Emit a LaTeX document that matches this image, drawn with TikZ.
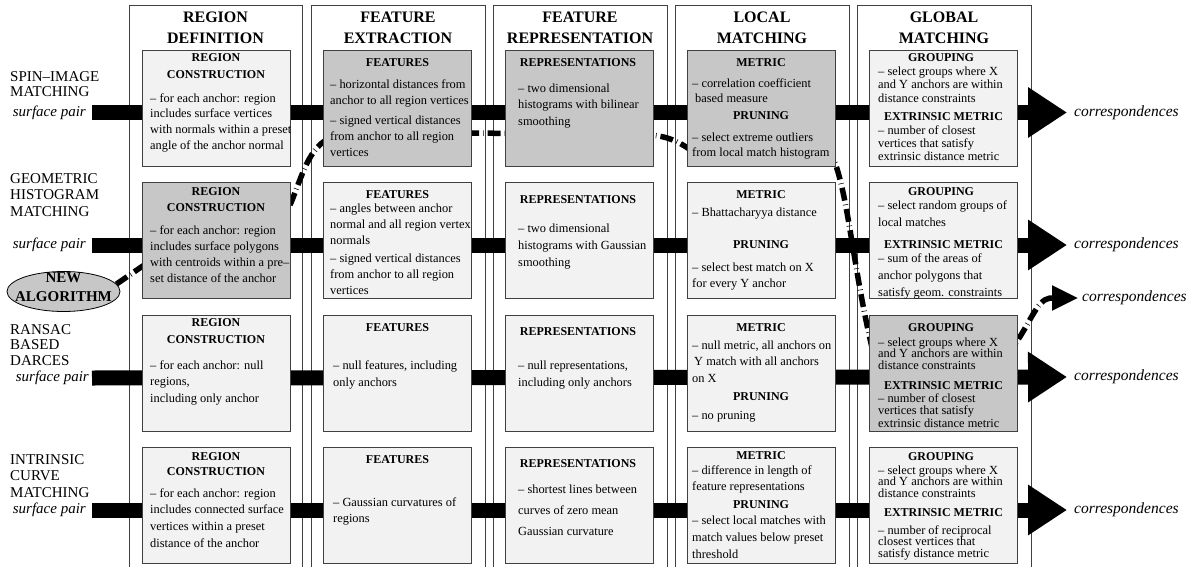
\documentclass[tikz,border=0pt]{standalone}
\usepackage{fontspec}
\setmainfont{Liberation Serif}
\usetikzlibrary{arrows.meta,shapes.geometric}
\newcommand\mystrut{\rule{0pt}{9pt}}
\newcommand\lblstrut{\rule{0pt}{11pt}}
\begin{document}
\begin{tikzpicture}[x=1pt,y=-1pt,
  colframe/.style={draw=black!75, line width=0.8pt},
  lbox/.style={draw=black!75, line width=0.8pt, fill=black!5, minimum width=148pt, minimum height=116pt, inner sep=0pt},
  dbox/.style={lbox, fill=black!22},
  hdr/.style={font=\fontsize{16}{21}\selectfont\bfseries, align=center, inner sep=0pt},
  ttl/.style={font=\fontsize{12}{#1}\selectfont\bfseries, align=center, inner sep=0pt},
  ttl/.default=16,
  bdy/.style={font=\fontsize{12.4}{#1}\selectfont, align=left, inner sep=0pt, anchor=north west},
  bdy/.default=16,
  rowlbl/.style={font=\fontsize{15}{#1}\selectfont, align=left, inner sep=0pt, anchor=north west},
  sp/.style={font=\fontsize{15}{18}\selectfont\itshape, inner ysep=0pt, inner xsep=6pt, anchor=east},
  cor/.style={font=\fontsize{15.5}{18}\selectfont\itshape, inner ysep=0pt, inner xsep=7pt, anchor=west},
  bar/.style={line width=15pt, -{Triangle[length=39pt,width=48pt]}},
  dpath/.style={line width=5.5pt, dash pattern=on 13pt off 4pt on 0.6pt off 4pt},
]
\useasboundingbox (0,0) rectangle (1191,567);

% columns
\foreach \a/\b in {129/302,311/485,493/667,675/849,857/1031}
  \draw[colframe] (\a,567) |- (\b,5) -- (\b,567);

% column headers
\node[hdr] (h1) at (215.5,27.5) {REGION\\DEFINITION};
\node[hdr] (h2) at (398,27.5) {FEATURE\\EXTRACTION};
\node[hdr] (h3) at (580,27.5) {FEATURE\\REPRESENTATION};
\node[hdr] (h4) at (762,27.5) {LOCAL\\MATCHING};
\node[hdr] (h5) at (944,27.5) {GLOBAL\\MATCHING};

% row labels
\node[rowlbl=15] (rl1) at (10,70) {\lblstrut SPIN--IMAGE\\MATCHING};
\node[rowlbl=16.5] (rl2) at (10,172) {\lblstrut GEOMETRIC\\HISTOGRAM\\MATCHING};
\node[rowlbl=15.5] (rl3) at (10,323) {\lblstrut RANSAC\\BASED\\DARCES};
\node[rowlbl=16.5] (rl4) at (10,453) {\lblstrut INTRINSIC\\CURVE\\MATCHING};
\node[sp] (sp1) at (92,112.5) {surface pair};
\node[sp] (sp2) at (92,245) {surface pair};
\node[sp, inner xsep=3pt] (sp3) at (92,378) {surface pair};
\node[sp] (sp4) at (92,510) {surface pair};
\node[cor] (cor1) at (1067,112.5) {correspondences};
\node[cor] (cor2) at (1067,245) {correspondences};
\node[cor] (cor3) at (1067,377) {correspondences};
\node[cor] (cor4) at (1067,510) {correspondences};
\node[cor, inner xsep=4pt] (cor5) at (1078,298) {correspondences};

% new algorithm
\node[ellipse, draw=black, line width=0.8pt, fill=black!22, minimum width=113pt, minimum height=40pt, inner sep=0pt] (alg) at (63.5,291.5) {};
\node[font=\fontsize{15}{19}\selectfont\bfseries, align=center, inner sep=0pt] (algt) at (63.5,287.5) {NEW\\ALGORITHM};

% thick flow bars
\draw[bar] (sp1.east) -- (cor1.west);
\draw[bar] (sp2.east) -- (cor2.west);
\draw[bar] (sp3.east) -- (cor3.west);
\draw[bar] (sp4.east) -- (cor4.west);

% dashed path of the new algorithm
\draw[dpath, -{Triangle[length=26pt,width=24pt]}] (alg.8) -- (150,261) -- (286,214)
  .. controls (300,185) and (306,150) .. (328,139) -- (472,133) -- (648,135)
  .. controls (668,136) and (678,141) .. (695,153) -- (826,145)
  .. controls (848,175) and (850,260) .. (875,360) -- (1012,348)
  .. controls (1030,325) and (1036,300) .. (1050,298) -- (cor5.west);

% boxes
\node[lbox] (rd1) at (216,108) {};
\node[dbox] (fe1) at (397.5,108) {};
\node[dbox] (fr1) at (579.5,108) {};
\node[dbox] (lm1) at (761,108) {};
\node[lbox] (gm1) at (943.5,108) {};
\node[dbox] (rd2) at (216,240) {};
\node[lbox] (fe2) at (397.5,240) {};
\node[lbox] (fr2) at (579.5,240) {};
\node[lbox] (lm2) at (761,240) {};
\node[lbox] (gm2) at (943.5,240) {};
\node[lbox] (rd3) at (216,373.5) {};
\node[lbox] (fe3) at (397.5,373.5) {};
\node[lbox] (fr3) at (579.5,373.5) {};
\node[lbox] (lm3) at (761,373.5) {};
\node[dbox] (gm3) at (943.5,373.5) {};
\node[lbox] (rd4) at (216,505) {};
\node[lbox] (fe4) at (397.5,505) {};
\node[lbox] (fr4) at (579.5,505) {};
\node[lbox] (lm4) at (761,505) {};
\node[lbox] (gm4) at (943.5,505) {};

% row 1 texts
\node[ttl=17] (rd1t) at (216,66.5) {REGION\\CONSTRUCTION};
\node[bdy=15.7] (rd1b) at (150,93) {\mystrut-- for each anchor: region\\includes surface vertices\\with normals within a preset\\angle of the anchor normal};
\node[ttl] (fe1t) at (397.5,63) {FEATURES};
\node[bdy=16] (fe1a) at (330,79) {\mystrut-- horizontal distances from\\anchor to all region vertices};
\node[bdy=16] (fe1b) at (330,115) {\mystrut-- signed vertical distances\\from anchor to all region\\vertices};
\node[ttl] (fr1t) at (578,63) {REPRESENTATIONS};
\node[bdy=16.5] (fr1b) at (518,83) {\mystrut-- two dimensional\\histograms with bilinear\\smoothing};
\node[ttl] (lm1t) at (761,63) {METRIC};
\node[bdy=15] (lm1a) at (692,78) {\mystrut-- correlation coefficient\\\hspace*{3pt}based measure};
\node[ttl] (lm1p) at (761,116) {PRUNING};
\node[bdy=15] (lm1b) at (692,132) {\mystrut-- select extreme outliers\\from local match histogram};
\node[ttl] (gm1t) at (941,58) {GROUPING};
\node[bdy=13.5] (gm1a) at (878,66) {\mystrut-- select groups where X\\and Y anchors are within\\distance constraints};
\node[ttl] (gm1e) at (943.5,117) {EXTRINSIC METRIC};
\node[bdy=13] (gm1b) at (878,125) {\mystrut-- number of closest\\vertices that satisfy\\extrinsic distance metric};

% row 2 texts
\node[ttl=16] (rd2t) at (216,200) {REGION\\CONSTRUCTION};
\node[bdy=16] (rd2b) at (150,225) {\mystrut-- for each anchor: region\\includes surface polygons\\with centroids within a pre--\\set distance of the anchor};
\node[ttl] (fe2t) at (397.5,195) {FEATURES};
\node[bdy=16] (fe2a) at (330,203) {\mystrut-- angles between anchor\\normal and all region vertex\\normals};
\node[bdy=16] (fe2b) at (330,253) {\mystrut-- signed vertical distances\\from anchor to all region\\vertices};
\node[ttl] (fr2t) at (578,200) {REPRESENTATIONS};
\node[bdy=17] (fr2b) at (518,223) {\mystrut-- two dimensional\\histograms with Gaussian\\smoothing};
\node[ttl] (lm2t) at (761,195) {METRIC};
\node[bdy=16] (lm2a) at (692,207) {\mystrut-- Bhattacharyya distance};
\node[ttl] (lm2p) at (761,245) {PRUNING};
\node[bdy=16] (lm2b) at (692,262) {\mystrut-- select best match on X\\for every Y anchor};
\node[ttl] (gm2t) at (941,192) {GROUPING};
\node[bdy=17] (gm2a) at (878,200) {\mystrut-- select random groups of\\local matches};
\node[ttl] (gm2e) at (943.5,245) {EXTRINSIC METRIC};
\node[bdy=17] (gm2b) at (878,253) {\mystrut-- sum of the areas of\\anchor polygons that\\satisfy geom. constraints};

% row 3 texts
\node[ttl=17] (rd3t) at (216,331.5) {REGION\\CONSTRUCTION};
\node[bdy=16.5] (rd3b) at (150,360) {\mystrut-- for each anchor: null\\regions,\\including only anchor};
\node[ttl] (fe3t) at (397.5,328) {FEATURES};
\node[bdy=17] (fe3b) at (333,360) {\mystrut-- null features, including\\only anchors};
\node[ttl] (fr3t) at (578,332) {REPRESENTATIONS};
\node[bdy=17] (fr3b) at (518,360) {\mystrut-- null representations,\\including only anchors};
\node[ttl] (lm3t) at (761,328) {METRIC};
\node[bdy=16.5] (lm3a) at (692,340) {\mystrut-- null metric, all anchors on\\\hspace*{2pt}Y match with all anchors\\on X};
\node[ttl] (lm3p) at (761,397) {PRUNING};
\node[bdy=16] (lm3b) at (692,410) {\mystrut-- no pruning};
\node[ttl] (gm3t) at (941,328) {GROUPING};
\node[bdy=11.7] (gm3a) at (878,337) {\mystrut-- select groups where X\\and Y anchors are within\\distance constraints};
\node[ttl] (gm3e) at (943.5,386) {EXTRINSIC METRIC};
\node[bdy=12.5] (gm3b) at (878,393) {\mystrut-- number of closest\\vertices that satisfy\\extrinsic distance metric};

% row 4 texts
\node[ttl=15] (rd4t) at (216,464.5) {REGION\\CONSTRUCTION};
\node[bdy=16.7] (rd4b) at (150,488) {\mystrut-- for each anchor: region\\includes connected surface\\vertices within a preset\\distance of the anchor};
\node[ttl] (fe4t) at (397.5,460) {FEATURES};
\node[bdy=16] (fe4b) at (333,497) {\mystrut-- Gaussian curvatures of\\regions};
\node[ttl] (fr4t) at (578,464) {REPRESENTATIONS};
\node[bdy=21] (fr4b) at (518,484) {\mystrut-- shortest lines between\\curves of zero mean\\Gaussian curvature};
\node[ttl] (lm4t) at (761,456) {METRIC};
\node[bdy=16] (lm4a) at (692,465) {\mystrut-- difference in length of\\feature representations};
\node[ttl] (lm4p) at (761,505) {PRUNING};
\node[bdy=17] (lm4b) at (692,515) {\mystrut-- select local matches with\\match values below preset\\threshold};
\node[ttl] (gm4t) at (941,457) {GROUPING};
\node[bdy=11.5] (gm4a) at (878,465) {\mystrut-- select groups where X\\and Y anchors are within\\distance constraints};
\node[ttl] (gm4e) at (943.5,513) {EXTRINSIC METRIC};
\node[bdy=11.5] (gm4b) at (878,525) {\mystrut-- number of reciprocal\\closest vertices that\\satisfy distance metric};
\end{tikzpicture}
\end{document}
